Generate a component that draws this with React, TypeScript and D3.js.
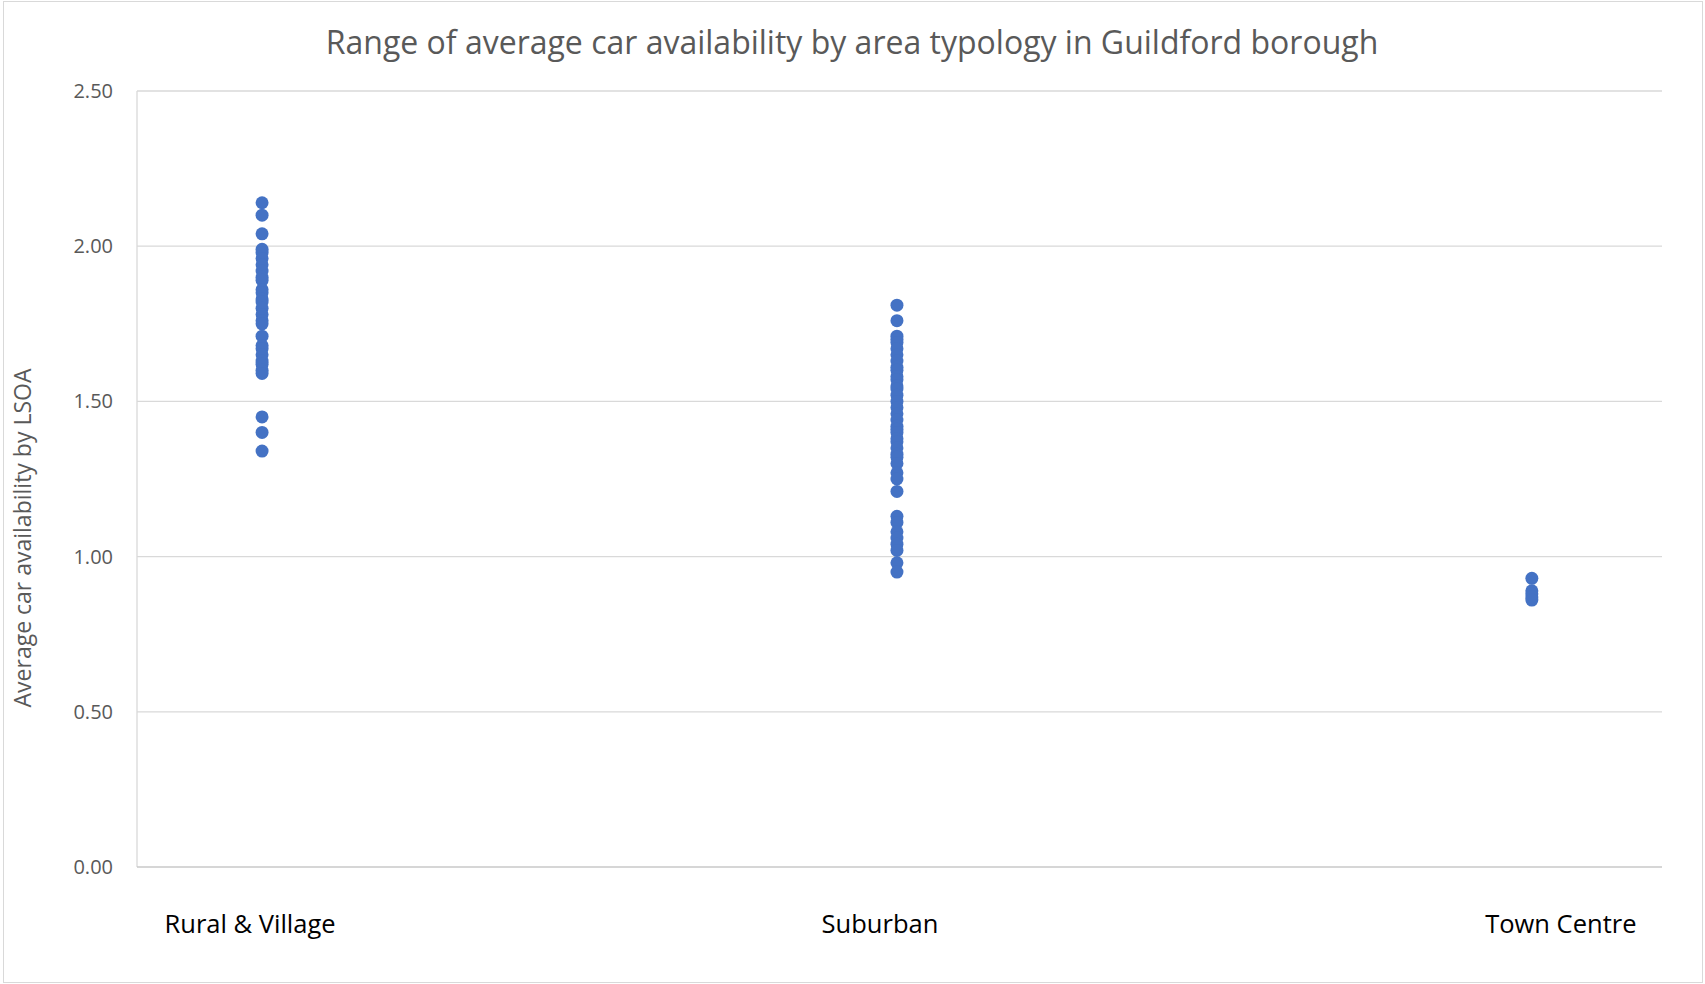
import React from "react";
import * as d3 from "d3";

const categories = ["Rural & Village", "Suburban", "Town Centre"];
const ruralValues = [2.14, 2.10, 2.04, 1.99, 1.98, 1.96, 1.94, 1.92, 1.90, 1.89, 1.86, 1.85, 1.83, 1.82, 1.80, 1.78, 1.76, 1.75, 1.71, 1.68, 1.67, 1.65, 1.63, 1.62, 1.60, 1.59, 1.45, 1.40, 1.34];
const suburbanValues = [1.81, 1.76, 1.71, 1.70, 1.69, 1.67, 1.65, 1.63, 1.61, 1.60, 1.58, 1.57, 1.55, 1.54, 1.52, 1.50, 1.48, 1.46, 1.44, 1.42, 1.41, 1.40, 1.38, 1.37, 1.35, 1.33, 1.32, 1.30, 1.27, 1.25, 1.21, 1.13, 1.11, 1.08, 1.06, 1.04, 1.02, 0.98, 0.95];
const townValues = [0.93, 0.89, 0.88, 0.87, 0.86];
const yTicks = [0, 0.5, 1.0, 1.5, 2.0, 2.5];
const title = "Range of average car availability by area typology in Guildford borough";
const yTitle = "Average car availability by LSOA";

const W = 1705;
const H = 984;
const plot = { left: 137, right: 1662, top: 91, bottom: 867 };
const labelOffsets = [-12, -17, 29];
const FONT = "'Open Sans', sans-serif";

export default function App() {
  const x = d3.scaleLinear().domain([0.803, 3.205]).range([plot.left, plot.right]);
  const y = d3.scaleLinear().domain([0, 2.5]).range([plot.bottom, plot.top]);
  const series = [ruralValues, suburbanValues, townValues];
  const fmt = d3.format(".2f");

  return (
    <svg
      width={W}
      height={H}
      style={{ position: "absolute", left: 0, top: 0, background: "#fff" }}
    >
      <rect x={3.5} y={1.5} width={1699} height={981} fill="#fff" stroke="#d9d9d9" strokeWidth={1} />
      <text x={852} y={54} textAnchor="middle" fontFamily={FONT} fontSize={32} fill="#595959">
        {title}
      </text>
      {yTicks.map((t) => (
        <g key={t}>
          {t > 0 && (
            <line x1={plot.left} x2={plot.right} y1={y(t)} y2={y(t)} stroke="#d9d9d9" strokeWidth={1.3} />
          )}
          <text x={113} y={y(t)} dy="0.35em" textAnchor="end" fontFamily={FONT} fontSize={20} fill="#595959">
            {fmt(t)}
          </text>
        </g>
      ))}
      <line x1={plot.left} x2={plot.left} y1={plot.top} y2={plot.bottom} stroke="#d9d9d9" strokeWidth={1.3} />
      <line x1={plot.left} x2={plot.right} y1={plot.bottom} y2={plot.bottom} stroke="#c8c8c8" strokeWidth={1.5} />
      <text
        transform={`translate(31, ${538}) rotate(-90)`}
        textAnchor="middle"
        fontFamily={FONT}
        fontSize={23}
        fill="#595959"
      >
        {yTitle}
      </text>
      {series.map((vals, i) => (
        <g key={i}>
          {vals.map((v, j) => (
            <circle key={j} cx={x(i + 1)} cy={y(v)} r={6.5} fill="#4472C4" />
          ))}
        </g>
      ))}
      {categories.map((c, i) => (
        <text
          key={c}
          x={x(i + 1) + labelOffsets[i]}
          y={924}
          dy="0.35em"
          textAnchor="middle"
          fontFamily={FONT}
          fontSize={25.5}
          fill="#000"
        >
          {c}
        </text>
      ))}
    </svg>
  );
}
